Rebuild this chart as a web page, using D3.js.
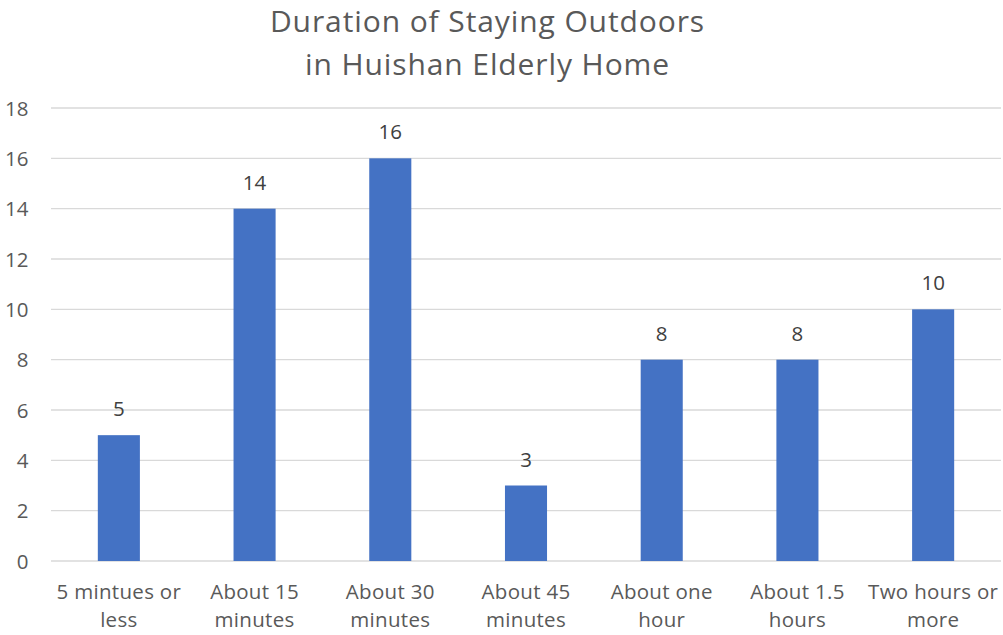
<!DOCTYPE html>
<html><head><meta charset="utf-8">
<script src="https://cdn.jsdelivr.net/npm/d3@7"></script>
<style>body{margin:0;background:#fff}svg{display:block}</style>
</head><body>
<script>
const categories = [["5 mintues or","less"],["About 15","minutes"],["About 30","minutes"],["About 45","minutes"],["About one","hour"],["About 1.5","hours"],["Two hours or","more"]];
const values = [5,14,16,3,8,8,10];
const yTicks = [0,2,4,6,8,10,12,14,16,18];
const titleLines = ["Duration of Staying Outdoors","in Huishan Elderly Home"];

const W=1003,H=635;
const font="'Open Sans', sans-serif";
const fs=20.5;
const svg=d3.select("body").append("svg").attr("width",W).attr("height",H);
const x=d3.scaleBand().domain(d3.range(values.length)).range([51,1001]).paddingInner(0.69).paddingOuter(0.345);
const y=d3.scaleLinear().domain([0,18]).range([561,108]);

svg.append("g").selectAll("line").data(yTicks).join("line")
  .attr("x1",51).attr("x2",1001).attr("y1",d=>y(d)).attr("y2",d=>y(d))
  .attr("stroke","#d9d9d9").attr("stroke-width",1.3);

const yAxis=d3.axisLeft(y).tickValues(yTicks).tickSize(0).tickPadding(0);
const ga=svg.append("g").attr("transform","translate(28.5,0)").call(yAxis);
ga.select(".domain").remove();
ga.selectAll("text").attr("font-family",font).attr("font-size",fs).attr("fill","#595959").attr("dy","0.357em");

svg.append("g").selectAll("rect").data(values).join("rect")
  .attr("x",(d,i)=>x(i)).attr("width",x.bandwidth())
  .attr("y",d=>y(d)).attr("height",d=>y(0)-y(d)).attr("fill","#4472c4");

svg.append("g").selectAll("text").data(values).join("text")
  .attr("x",(d,i)=>x(i)+x.bandwidth()/2).attr("y",d=>y(d)-19)
  .attr("text-anchor","middle").attr("font-family",font).attr("font-size",fs).attr("fill","#404040")
  .text(d=>d);

const xl=svg.append("g").selectAll("text").data(categories).join("text")
  .attr("x",(d,i)=>x(i)+x.bandwidth()/2).attr("y",599)
  .attr("text-anchor","middle").attr("font-family",font).attr("font-size",fs).attr("fill","#595959")
  .attr("letter-spacing",0.3);
xl.each(function(d){
  const t=d3.select(this);
  d.forEach((s,k)=>t.append("tspan").attr("x",t.attr("x")).attr("dy",k?28:0).text(s));
});

svg.append("text").attr("x",487.5).attr("y",32).attr("text-anchor","middle")
  .attr("font-family",font).attr("font-size",30).attr("fill","#595959").attr("letter-spacing",0.9)
  .selectAll("tspan").data(titleLines).join("tspan").attr("x",487.5).attr("dy",(d,i)=>i?43:0).text(d=>d);
</script>
</body></html>
